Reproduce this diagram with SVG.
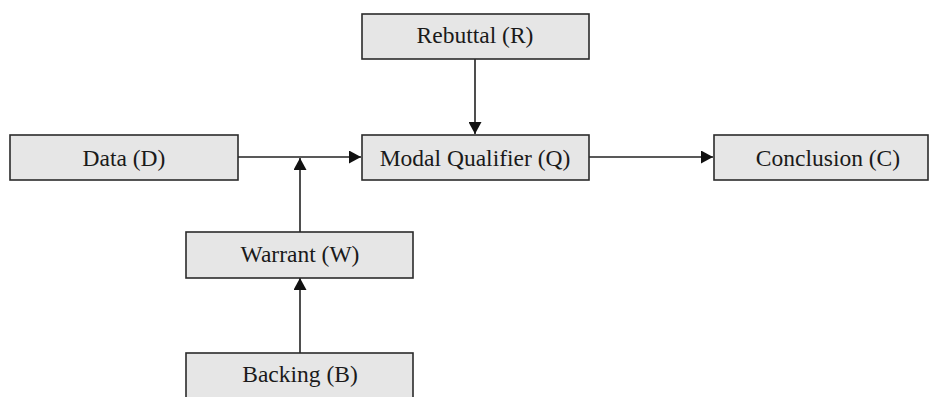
<svg xmlns="http://www.w3.org/2000/svg" width="930" height="397" viewBox="0 0 930 397">
<defs>
<style>
.box{fill:#e6e6e6;stroke:#2b2b2b;stroke-width:1.6}
.lbl{font-family:"Liberation Serif","Times New Roman",serif;font-size:23.5px;fill:#1a1a1a;text-anchor:middle}
.edge{stroke:#222;stroke-width:1.6;fill:none}
</style>
<marker id="arr" markerUnits="userSpaceOnUse" markerWidth="13" markerHeight="13" viewBox="0 0 13 13" refX="12" refY="6.5" orient="auto">
<path d="M0,0 L12,6.5 L0,13 z" fill="#111"/>
</marker>
</defs>
<rect width="930" height="397" fill="#fff"/>
<g id="connectors">
<line class="edge" x1="238" y1="157" x2="361" y2="157" marker-end="url(#arr)"/>
<line class="edge" x1="475" y1="59" x2="475" y2="134" marker-end="url(#arr)"/>
<line class="edge" x1="589" y1="157" x2="713" y2="157" marker-end="url(#arr)"/>
<line class="edge" x1="300" y1="232" x2="300" y2="158" marker-end="url(#arr)"/>
<line class="edge" x1="300" y1="353" x2="300" y2="278" marker-end="url(#arr)"/>
</g>
<g id="data">
<rect class="box" x="10" y="135" width="228" height="45"/>
<text class="lbl" x="124" y="166">Data (D)</text>
</g>
<g id="rebuttal">
<rect class="box" x="362" y="14" width="227" height="45"/>
<text class="lbl" x="475" y="43">Rebuttal (R)</text>
</g>
<g id="qualifier">
<rect class="box" x="362" y="135" width="227" height="45"/>
<text class="lbl" x="475" y="166">Modal Qualifier (Q)</text>
</g>
<g id="conclusion">
<rect class="box" x="714" y="135" width="214" height="45"/>
<text class="lbl" x="828" y="166">Conclusion (C)</text>
</g>
<g id="warrant">
<rect class="box" x="186" y="232" width="227" height="46"/>
<text class="lbl" x="300" y="262">Warrant (W)</text>
</g>
<g id="backing">
<rect class="box" x="186" y="353" width="227" height="50"/>
<text class="lbl" x="300" y="382">Backing (B)</text>
</g>
</svg>
